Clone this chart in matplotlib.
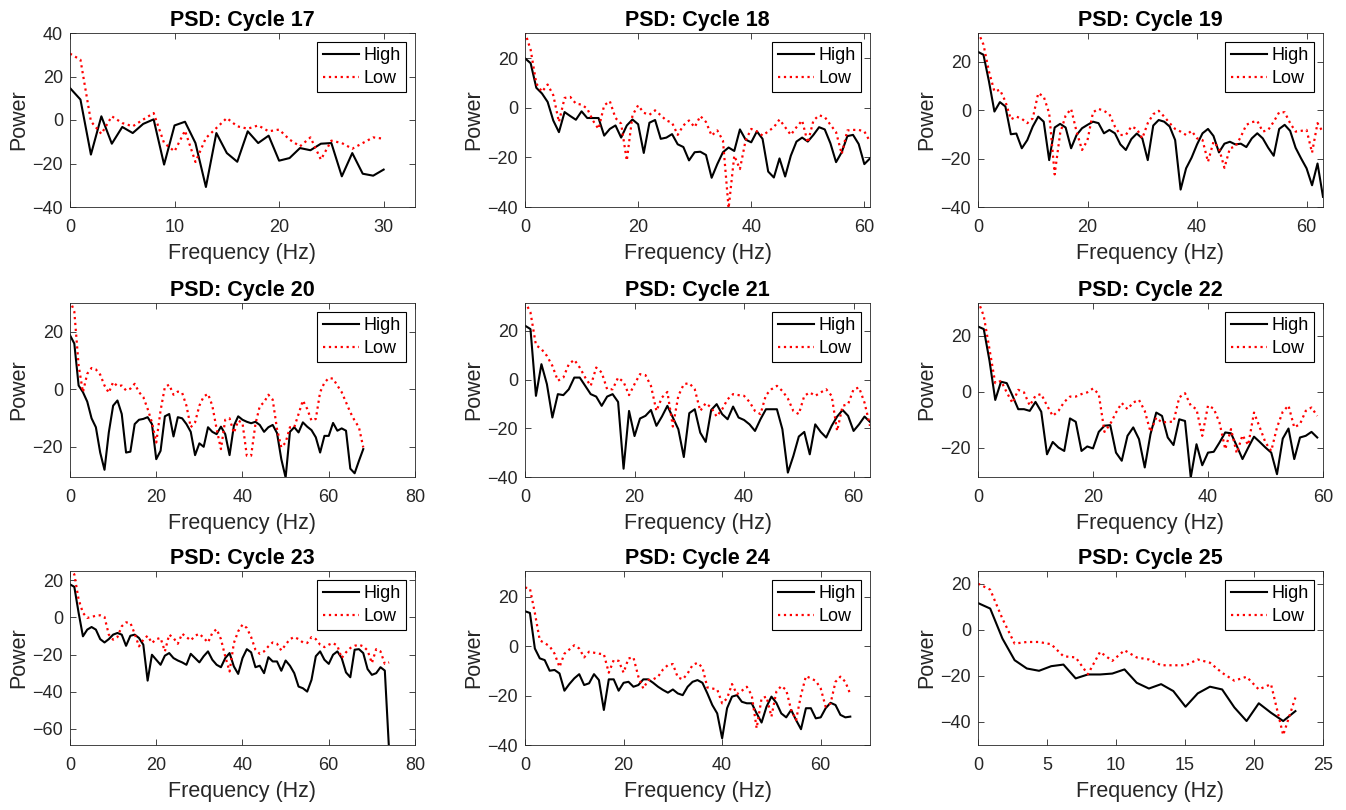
import numpy as np
import matplotlib
matplotlib.use('Agg')
import matplotlib.pyplot as plt
from matplotlib.ticker import MultipleLocator

plt.rcParams['font.family'] = ['Liberation Sans', 'DejaVu Sans']

# ---- data (power in dB) ----
cycles = [17, 18, 19, 20, 21, 22, 23, 24, 25]
fmax = [30, 61, 63, 68, 63, 59, 74, 66, 23]      # last frequency bin of each cycle
npts = [31, 62, 64, 69, 64, 60, 75, 67, 27]

high17 = [14.7, 9.4, -15.9, 1.7, -10.9, -3.2, -6, -1.8, 0.3, -20.5, -2.5, -0.8, -10.6, -30.8, -6, -15.2,
          -19.2, -5.2, -10.6, -7.2, -18.7, -17.5, -12.9, -13.9, -10.9, -10.6, -25.9, -15.2, -24.7, -25.6, -22.8]
low17 = [30.5, 27.7, -0.6, -6.4, 1.7, -1.4, -2.9, 0.2, 3.2, -10.6, -14.4, -4.9, -19.3, -8.3, -3.7, 0.9,
         -2.9, -4, -2.5, -5.2, -4.4, -9, -12.1, -8, -18.2, -9.5, -10.6, -13.2, -10.6, -8, -8.6]

high18 = [20, 18.0, 8.1, 5.8, 2.4, -5.1, -9.8, -1.7, -3.3, -4.8, -1.4, -4.1, -4.1, -4.1, -11.2, -8.5,
          -7.1, -12.0, -7.1, -4.7, -6.6, -18.2, -6.0, -4.9, -12.5, -12.0, -10.6, -14.7, -15.8, -21.2, -17.9,
          -17.7, -19.0, -28.2, -22.7, -17.9, -16.0, -17.4, -8.7, -12.8, -13.9, -9.5, -12.5, -25.7, -28.1,
          -20.4, -27.7, -19.3, -13.6, -12.0, -13.6, -10.9, -7.8, -8.7, -14.3, -21.9, -17.9, -11.4, -10.9,
          -14.6, -22.7, -20.4]
low18 = [30.5, 23.4, 9.8, 6.5, 9.4, 5.1, -5.7, 4.0, 4.4, 1.7, 1.3, -0.3, -5.1, -8.5, 1.0, 2.7, -4.1,
         -6.4, -21.3, -3.0, 1.0, -2.0, -2.8, -1.0, -3.0, -5.1, -6.0, -10.9, -7.1, -5.1, -7.8, -3.3, -5.7,
         -11.2, -9.1, -13.2, -40.5, -19.3, -24.7, -13.2, -8.5, -9.5, -11.2, -9.5, -7.8, -4.7, -7.8, -10.9,
         -7.8, -5.1, -14.1, -5.1, -3.0, -3.7, -6.8, -9.8, -18.6, -9.1, -8.9, -8.9, -9.5, -13.6]

high19 = [24.2, 23.0, 12.0, -0.5, 3.4, 1.6, -9.9, -9.6, -15.7, -12.3, -6.7, -2.6, -4.7, -20.6, -7.1,
          -5.6, -7.1, -15.7, -10.2, -7.4, -6.0, -4.7, -5.3, -9.5, -8.1, -9.5, -14.1, -16.4, -11.9, -9.6,
          -11.6, -20.6, -6.3, -4.0, -4.7, -6.7, -12.3, -32.8, -24.0, -19.6, -14.1, -9.5, -7.7, -10.6,
          -17.4, -13.8, -13.0, -14.1, -13.8, -15.2, -11.6, -9.5, -11.6, -15.5, -18.8, -7.7, -6.0, -8.5,
          -15.5, -19.9, -24.0, -31.0, -22.0, -35.8]
low19 = [32.5, 27.2, 16.1, 7.8, 8.5, 3.7, -3.7, -2.6, -3.5, -5.3, -3.3, 7.1, 5.7, -1.2, -26.5, -9.5,
         -2.2, 0.6, -8.8, -16.4, -12.3, -0.8, 0.6, -0.2, -1.6, -6.7, -10.2, -10.2, -6.7, -7.7, -11.6, -5.3,
         -1.6, -0.2, -2.6, -5.3, -7.7, -8.8, -10.2, -8.5, -11.6, -12.3, -21.3, -13.0, -15.7, -23.8, -15.7,
         -15.0, -10.9, -6.0, -4.9, -4.4, -8.8, -8.1, -4.7, -0.8, -0.8, -5.3, -8.8, -8.5, -8.1, -17.5,
         -5.3, -9.1]

high20 = [18.8, 15.9, 1.3, -1.0, -4.3, -10.1, -13.2, -22.0, -28.0, -15.0, -5.7, -3.9, -8.6, -22.0,
          -21.7, -12.1, -10.6, -10.3, -9.7, -12.1, -24.3, -21.4, -9.4, -8.6, -16.4, -9.7, -10.1, -12.1,
          -14.8, -22.9, -18.8, -20.0, -13.2, -14.8, -15.6, -13.0, -15.6, -22.9, -12.7, -9.4, -10.6, -11.3,
          -11.8, -11.3, -12.4, -14.8, -13.2, -12.4, -15.2, -24.3, -30.7, -14.8, -13.2, -15.0, -11.5, -13.0,
          -14.2, -16.7, -22.0, -16.2, -16.2, -11.7, -14.4, -13.6, -14.4, -27.6, -29.2, -24.9, -20.8]
low20 = [31, 27, 8.3, -1.0, 5.4, 7.4, 6.9, 5.1, 1.3, -1.2, 2.5, 1.1, 1.3, -0.4, 0.2, 1.9, -1.0, -2.7,
         -6.8, -11.5, -18.5, -7.4, 0.8, 1.6, -1.9, -0.8, -1.2, -5.7, -13.2, -11.5, -5.7, -2.5, -1.6, -5.7,
         -13.8, -20.8, -10.6, -10.1, -15.2, -10.9, -11.7, -23.1, -23.1, -12.1, -5.9, -4.5, -1.9, -3.6,
         -13.8, -20.2, -18.5, -13.2, -13.2, -8.6, -3.9, -6.8, -10.9, -10.3, -1.0, 2.3, 3.9, 3.7, 1.3,
         -1.0, -4.5, -8.0, -10.9, -13.2, -20.2]

high21 = [22.1, 20.7, -6.7, 6.3, -1.9, -15.6, -6.0, -6.4, -4.0, 0.8, 0.8, -2.6, -6.0, -7.0, -10.8, -7.0,
          -6.0, -9.2, -36.6, -12.9, -23.2, -16.0, -14.9, -12.5, -19.0, -15.2, -10.8, -15.6, -20.4, -31.8,
          -13.8, -12.2, -21.8, -25.6, -12.5, -10.1, -14.2, -16.3, -11.1, -15.6, -16.6, -18.4, -21.1, -16.3,
          -12.2, -12.2, -12.2, -20.4, -38.2, -31.4, -23.4, -21.5, -30.7, -18.4, -21.5, -23.8, -19.0,
          -15.2, -12.5, -14.9, -21.1, -18.4, -15.2, -17.4]
low21 = [32, 27.5, 14.1, 12.5, 9.7, 5.6, -0.5, 0.8, 6.3, 8.1, 4.9, 0.8, -2.6, 4.9, 2.9, -4.0, -4.0, 0.8,
         -1.0, -6.4, -1.9, 2.2, 1.8, -2.6, -12.9, -7.4, -5.1, -19.3, -6.7, -1.9, -1.5, -4.0, -12.9, -9.7,
         -11.5, -15.2, -12.2, -8.1, -6.0, -6.4, -6.7, -9.2, -12.9, -14.2, -6.4, -4.0, -2.6, -4.7, -7.8,
         -12.9, -14.2, -6.7, -5.3, -6.7, -5.3, -4.0, -6.7, -21.1, -10.8, -10.1, -4.0, -3.3, -9.5, -19.0]

high22 = [23.3, 22.4, 11.1, -2.9, 3.6, 3.1, -1.4, -6.2, -6.2, -6.8, -3.6, -7.1, -22.3, -17.9, -19.9,
          -21.1, -9.5, -10.7, -21.1, -19.5, -20.2, -14.3, -12.1, -11.9, -21.7, -24.6, -15.7, -12.7, -16.9,
          -27.0, -15.1, -7.4, -8.6, -16.3, -19.0, -9.8, -10.4, -30.6, -18.7, -26.2, -21.7, -21.4, -18.1,
          -14.5, -14.8, -19.3, -24.0, -19.9, -16.0, -17.9, -19.9, -21.7, -29.4, -16.7, -13.1, -24.0,
          -16.3, -15.7, -14.3, -16.3]
low22 = [32.5, 27.1, 15.2, 3.1, 3.9, -0.2, -4.0, 0.7, -0.2, -4.9, -1.4, -0.8, -4.9, -8.6, -6.8, -3.6,
         -1.7, -1.7, -0.8, -0.2, 1.2, -0.8, -14.3, -11.5, -7.4, -4.0, -6.2, -3.8, -2.9, -6.8, -14.3, -9.2,
         -11.0, -10.7, -10.7, -2.0, -0.5, -4.9, -6.2, -15.7, -4.9, -6.0, -11.0, -20.5, -13.3, -21.9,
         -15.5, -19.0, -7.4, -12.7, -18.1, -21.1, -12.7, -7.1, -4.9, -12.7, -11.5, -6.8, -5.6, -8.6]

high23 = [17.7, 16.4, 2.4, -10.2, -6.6, -5.2, -6.6, -11.7, -13.5, -11.7, -9.3, -8.4, -9.3, -15.3, -9.9,
          -9.3, -11.1, -14.7, -34.0, -20.1, -22.8, -25.5, -20.6, -19.2, -21.9, -23.2, -24.2, -25.5, -19.6,
          -21.9, -24.2, -20.9, -18.3, -22.8, -25.5, -26.8, -21.9, -19.2, -26.4, -30.4, -21.9, -17.1, -18.8,
          -26.8, -26.0, -30.0, -21.4, -23.7, -23.7, -28.7, -23.2, -26.0, -30.0, -37.2, -38.1, -39.9, -33.6,
          -20.9, -18.3, -22.8, -25.0, -20.1, -18.3, -21.9, -29.6, -32.2, -17.4, -17.1, -19.2, -27.8,
          -30.9, -30.0, -26.8, -28.6, -72.0]
low23 = [26, 23.1, 9.6, 2.4, -0.3, 0.2, 0.9, 1.1, 0.2, -9.3, -12.0, -10.6, -4.8, -2.7, -3.0, -8.8, -15.6,
         -12.0, -9.9, -13.8, -11.7, -11.1, -18.3, -9.3, -11.1, -14.2, -8.8, -10.6, -12.4, -9.9, -8.8,
         -11.1, -13.5, -8.4, -6.3, -11.7, -21.0, -29.1, -13.8, -7.5, -3.9, -5.7, -10.6, -17.4, -19.6,
         -18.3, -15.6, -13.5, -14.2, -17.8, -14.7, -11.7, -10.6, -11.7, -13.5, -13.8, -10.6, -11.7, -14.7,
         -16.0, -14.7, -13.8, -15.3, -21.9, -18.8, -16.5, -15.3, -14.7, -15.6, -17.8, -24.6, -17.1,
         -18.3, -25.0, -24.2]

high24 = [14.2, 13.5, -0.9, -4.9, -5.6, -9.9, -9.6, -11.0, -18.0, -15.3, -13.0, -11.3, -15.7, -15.0,
          -11.3, -13.7, -25.8, -13.4, -13.4, -18.0, -14.8, -14.4, -16.4, -15.7, -13.4, -13.4, -14.8,
          -16.4, -17.7, -18.8, -17.5, -19.1, -19.8, -16.4, -14.4, -13.7, -14.8, -19.1, -23.8, -27.2, -37.3,
          -25.1, -20.4, -19.8, -22.5, -23.1, -23.1, -27.2, -30.9, -24.5, -20.4, -22.9, -27.2, -28.8, -25.8,
          -29.9, -33.6, -25.1, -25.1, -29.2, -28.8, -25.1, -22.9, -23.8, -27.8, -28.8, -28.5]
low24 = [23.8, 23.4, 13.5, 2.4, 1.3, 0, -3.0, -8.4, -3.0, -1.3, 0.4, -0.9, -4.5, -2.2, -2.6, -3.0, -3.2,
         -10.7, -5.6, -5.9, -10.7, -4.9, -4.5, -12.3, -17.1, -13.7, -13.4, -12.3, -9.4, -7.6, -7.2, -12.6,
         -13.4, -11.0, -7.6, -6.7, -8.6, -16.7, -17.1, -17.5, -23.1, -21.1, -15.3, -19.4, -18.0, -16.4,
         -19.8, -33.2, -21.1, -20.4, -28.5, -18.4, -16.1, -17.7, -25.8, -29.9, -19.8, -12.1, -13.0, -14.0,
         -17.1, -24.5, -23.1, -14.4, -12.3, -14.4, -19.4]

high25 = [11.6, 9.2, -3.8, -13.2, -16.8, -17.8, -15.8, -15.1, -21.1, -19.4, -19.4, -19.0, -17.2, -23.0,
          -25.5, -23.6, -26.6, -33.4, -27.6, -24.7, -25.9, -33.7, -39.6, -31.9, -36.0, -39.6, -35.3]
low25 = [20, 17.4, 4.8, -6.0, -5.3, -5.3, -6.3, -11.5, -12.0, -19.3, -9.6, -13.5, -8.9, -12.0, -12.9,
         -15.4, -15.4, -15.4, -12.9, -14.3, -18.7, -22.1, -20.4, -25.9, -23.6, -45.7, -29.4]

highs = [high17, high18, high19, high20, high21, high22, high23, high24, high25]
lows = [low17, low18, low19, low20, low21, low22, low23, low24, low25]

xlims = [33, 61, 63, 80, 63, 60, 80, 70, 25]
xsteps = [10, 20, 20, 20, 20, 20, 20, 20, 5]
ylims = [(-40, 40), (-40, 30.2), (-40, 32), (-30.5, 30), (-40, 31.4),
         (-30.4, 31.7), (-68.6, 24.9), (-40, 30.5), (-50, 25.5)]

fig = plt.figure(figsize=(13.46, 8.10), dpi=100)

lefts = [70, 525, 978]
tops = [33, 303, 571]
w, h = 345, 174
axcol = '#262626'

for i in range(9):
    r, c = divmod(i, 3)
    ax = fig.add_axes([lefts[c] / 1346, 1 - (tops[r] + h) / 810, w / 1346, h / 810])
    f = np.linspace(0, fmax[i], npts[i])
    ax.plot(f, highs[i], color='k', lw=1.5, label='High')
    ax.plot(f, lows[i], color='red', lw=1.6, ls=':', label='Low')
    ax.set_xlim(0, xlims[i])
    ax.set_ylim(*ylims[i])
    ax.xaxis.set_major_locator(MultipleLocator(xsteps[i]))
    ax.yaxis.set_major_locator(MultipleLocator(20))
    ax.tick_params(direction='in', top=True, right=True, labelsize=13, colors=axcol,
                   length=4, width=0.6)
    ax.tick_params(axis='x', pad=9)
    ax.tick_params(axis='y', pad=5)
    for s in ax.spines.values():
        s.set_color(axcol)
        s.set_linewidth(0.6)
    ax.set_title('PSD: Cycle %d' % cycles[i], fontsize=15.5, fontweight='bold', pad=5)
    ax.set_xlabel('Frequency (Hz)', fontsize=15.5, color=axcol, labelpad=5)
    ax.set_ylabel('Power', fontsize=15.5, color=axcol, labelpad=2)
    leg = ax.legend(loc='upper right', fontsize=13, fancybox=False, edgecolor='k',
                    framealpha=1, handlelength=2.0, handletextpad=0.25, borderpad=0.3,
                    labelspacing=0.3, borderaxespad=0.5)
    leg.get_frame().set_linewidth(0.8)

fig.savefig('out.png', dpi=100)
